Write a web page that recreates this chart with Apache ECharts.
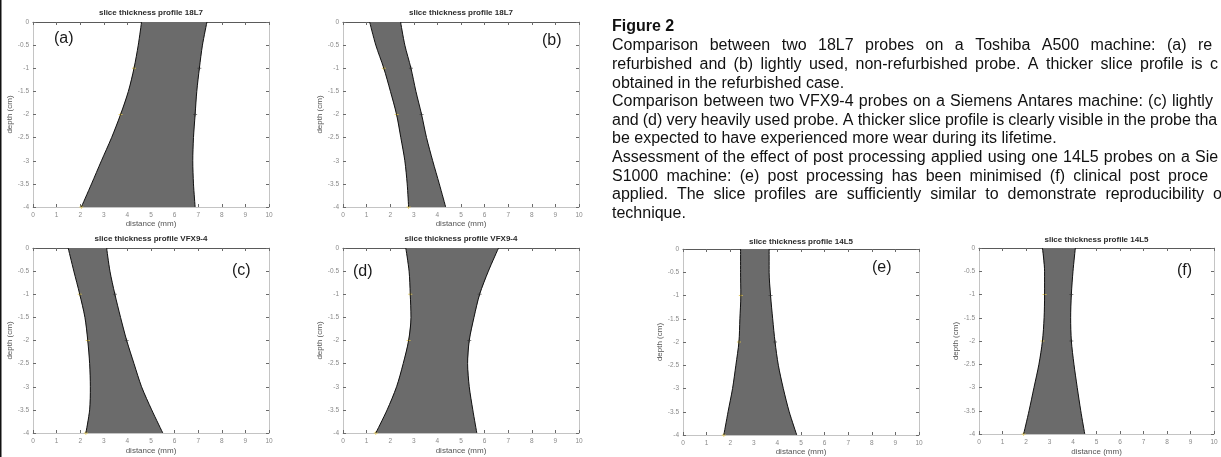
<!DOCTYPE html>
<html>
<head>
<meta charset="utf-8">
<title>slice thickness profiles</title>
<script src="https://cdn.jsdelivr.net/npm/echarts@6/dist/echarts.min.js"></script>
<style>
    html, body { margin: 0; padding: 0; background: #fff; }
    #main { width: 1221px; height: 457px; }
</style>
</head>
<body>
<div id="main"></div>
<script>
    // depth samples (cm), shared by all six profiles
    const depth = [0, -0.5, -1, -1.5, -2, -2.5, -3, -3.5, -4];

    // left / right edge of the slice profile (distance, mm) at each depth
    const leftA = [4.6, 4.46, 4.28, 4.04, 3.71, 3.33, 2.9, 2.48, 2.05];
    const rightA = [7.37, 7.18, 7.05, 6.94, 6.87, 6.8, 6.77, 6.8, 6.87];
    const leftB = [1.13, 1.39, 1.73, 2.01, 2.27, 2.45, 2.62, 2.72, 2.78];
    const rightB = [2.44, 2.62, 2.88, 3.09, 3.33, 3.54, 3.8, 4.08, 4.35];
    const leftC = [1.49, 1.73, 1.98, 2.2, 2.32, 2.4, 2.43, 2.4, 2.24];
    const rightC = [3.12, 3.26, 3.47, 3.71, 3.97, 4.28, 4.6, 5.03, 5.5];
    const leftD = [2.66, 2.8, 2.85, 2.88, 2.78, 2.55, 2.27, 1.87, 1.39];
    const rightD = [6.59, 6.16, 5.79, 5.55, 5.35, 5.28, 5.35, 5.5, 5.67];
    const leftE = [2.44, 2.44, 2.45, 2.41, 2.37, 2.24, 2.1, 1.91, 1.73];
    const rightE = [3.65, 3.65, 3.71, 3.8, 3.9, 4.04, 4.25, 4.5, 4.82];
    const leftF = [2.7, 2.79, 2.79, 2.77, 2.7, 2.55, 2.34, 2.13, 1.9];
    const rightF = [4.1, 4.0, 3.93, 3.9, 3.93, 4.04, 4.18, 4.33, 4.5];

    // depths (index into depth) where the measurement markers sit
    const markerIdx = [2, 4, 8];

    const titles = [
        'slice thickness profile 18L7', 'slice thickness profile 18L7',
        'slice thickness profile VFX9-4', 'slice thickness profile VFX9-4',
        'slice thickness profile 14L5', 'slice thickness profile 14L5'
    ];
    const tags = ['(a)', '(b)', '(c)', '(d)', '(e)', '(f)'];
    const xName = 'distance (mm)';
    const yName = 'depth (cm)';

    const captionHead = 'Figure 2';
    const captionLines = [
        'Comparison between two 18L7 probes on a Toshiba A500 machine: (a) re',
        'refurbished and (b) lightly used, non-refurbished probe. A thicker slice profile is c',
        'obtained in the refurbished case.',
        'Comparison between two VFX9-4 probes on a Siemens Antares machine: (c) lightly',
        'and (d) very heavily used probe. A thicker slice profile is clearly visible in the probe tha',
        'be expected to have experienced more wear during its lifetime.',
        'Assessment of the effect of post processing applied using one 14L5 probes on a Sie',
        'S1000 machine: (e) post processing has been minimised (f) clinical post proce',
        'applied. The slice profiles are sufficiently similar to demonstrate reproducibility o',
        'technique.'
    ];

    const lefts = [leftA, leftB, leftC, leftD, leftE, leftF];
    const rights = [rightA, rightB, rightC, rightD, rightE, rightF];

    // layout
    const boxes = [
        {left: 33, top: 22, width: 236, height: 185, titleY: 14, tag: [54, 39], nameGap: 13},
        {left: 343, top: 22, width: 236, height: 185, titleY: 14, tag: [542, 41], nameGap: 13},
        {left: 33, top: 248, width: 236, height: 185, titleY: 240, tag: [232, 271], nameGap: 14},
        {left: 343, top: 248, width: 236, height: 185, titleY: 240, tag: [353, 272], nameGap: 14},
        {left: 683, top: 249, width: 236, height: 187, titleY: 243, tag: [872, 268], nameGap: 13},
        {left: 979, top: 248, width: 235, height: 186, titleY: 241, tag: [1177, 271], nameGap: 14}
    ];
    const textFont = '"Liberation Sans", Arial, sans-serif';
    const captionX = 612;
    const captionY0 = 46;
    const captionStep = 18.6;
    // x where the last visible word of each justified line starts (null = not justified)
    const justifyTo = [1198, 1210, null, 1172, 1195, null, 1195, 1168, 1213, null];

    const myChart = echarts.init(document.getElementById('main'));

    const grid = [], xAxis = [], yAxis = [], series = [], title = [], graphic = [];

    const axisLine = (color) => ({show: true, onZero: false, lineStyle: {color: color, width: 1}});
    const ticks = {show: true, inside: true, length: 3, lineStyle: {color: '#6a6a6a', width: 1}};

    boxes.forEach(function (b, i) {
        grid.push({left: b.left, top: b.top, width: b.width, height: b.height, containLabel: false});

        xAxis.push({
            gridIndex: i, type: 'value', min: 0, max: 10, interval: 1, position: 'bottom',
            axisLine: axisLine('#c4c4c4'), axisTick: ticks, splitLine: {show: false},
            axisLabel: {color: '#8a8a8a', fontSize: 6.5, margin: 5, fontFamily: textFont},
            name: xName, nameLocation: 'middle', nameGap: b.nameGap,
            nameTextStyle: {color: '#555', fontSize: 8, fontFamily: textFont}
        });
        xAxis.push({
            gridIndex: i, type: 'value', min: 0, max: 10, interval: 1, position: 'top',
            axisLine: axisLine('#5a5a5a'), axisTick: ticks, splitLine: {show: false},
            axisLabel: {show: false}
        });
        yAxis.push({
            gridIndex: i, type: 'value', min: -4, max: 0, interval: 0.5, position: 'left',
            axisLine: axisLine('#c4c4c4'), axisTick: ticks, splitLine: {show: false},
            axisLabel: {color: '#8a8a8a', fontSize: 6.5, margin: 4, fontFamily: textFont},
            name: yName, nameLocation: 'middle', nameGap: 17, nameRotate: 90,
            nameTextStyle: {color: '#555', fontSize: 8, fontFamily: textFont}
        });
        yAxis.push({
            gridIndex: i, type: 'value', min: -4, max: 0, interval: 0.5, position: 'right',
            axisLine: axisLine('#c4c4c4'), axisTick: ticks, splitLine: {show: false},
            axisLabel: {show: false}
        });

        const L = lefts[i], R = rights[i];
        const leftPts = depth.map((d, k) => [L[k], d]);
        const rightPts = depth.map((d, k) => [R[k], d]);
        const poly = leftPts.concat(rightPts.slice().reverse());

        series.push({
            type: 'custom', xAxisIndex: 2 * i, yAxisIndex: 2 * i, clip: true, silent: true,
            data: poly,
            renderItem: function (params, api) {
                if (params.dataIndex !== 0) return null;
                return {
                    type: 'polygon',
                    shape: {points: poly.map(p => api.coord(p))},
                    style: {fill: '#6b6b6b'}
                };
            }
        });
        [leftPts, rightPts].forEach(function (pts) {
            series.push({
                type: 'line', xAxisIndex: 2 * i, yAxisIndex: 2 * i, data: pts,
                smooth: 0.3, showSymbol: false, silent: true,
                lineStyle: {color: '#111', width: 1}
            });
        });
        series.push({
            type: 'scatter', xAxisIndex: 2 * i, yAxisIndex: 2 * i, silent: true,
            symbol: 'path://M4,0H6V4H10V6H6V10H4V6H0V4H4Z', symbolSize: 4,
            data: markerIdx.map(k => leftPts[k]),
            itemStyle: {color: '#e6c84a', opacity: 0.8}
        });
        series.push({
            type: 'scatter', xAxisIndex: 2 * i, yAxisIndex: 2 * i, silent: true,
            symbol: 'path://M4,0H6V4H10V6H6V10H4V6H0V4H4Z', symbolSize: 4,
            data: markerIdx.slice(0, 2).map(k => rightPts[k]),
            itemStyle: {color: '#333', opacity: 0.6}
        });

        title.push({
            text: titles[i], left: b.left + b.width / 2, top: b.titleY - 5, textAlign: 'center', padding: 0,
            textStyle: {fontSize: 8, fontWeight: 'bold', color: '#2a2a2a', fontFamily: textFont}
        });
        graphic.push({
            type: 'text', x: b.tag[0], y: b.tag[1],
            style: {text: tags[i], fill: '#1a1a1a', font: '16px ' + textFont, verticalAlign: 'middle'}
        });
    });

    // caption
    const mctx = document.createElement('canvas').getContext('2d');
    const capFont = '16px ' + textFont;
    mctx.font = capFont;
    graphic.push({
        type: 'text', x: captionX, y: captionY0 - 19,
        style: {text: captionHead, fill: '#111', font: 'bold 16px ' + textFont, verticalAlign: 'middle'}
    });
    captionLines.forEach(function (line, k) {
        const y = captionY0 + k * captionStep;
        const end = justifyTo[k];
        if (end == null) {
            graphic.push({type: 'text', x: captionX, y: y,
                style: {text: line, fill: '#111', font: capFont, verticalAlign: 'middle'}});
            return;
        }
        const words = line.split(' ');
        const widths = words.map(w => mctx.measureText(w).width);
        let used = 0;
        for (let j = 0; j < words.length - 1; j++) used += widths[j];
        const gap = (end - captionX - used) / (words.length - 1);
        let x = captionX;
        words.forEach(function (w, j) {
            graphic.push({type: 'text', x: x, y: y,
                style: {text: w, fill: '#111', font: capFont, verticalAlign: 'middle'}});
            x += widths[j] + gap;
        });
    });

    // dark edge on the left of the figure
    graphic.push({type: 'rect', shape: {x: 0, y: 0, width: 1.5, height: 457}, style: {fill: '#111'}});

    myChart.setOption({
        animation: false,
        title: title,
        grid: grid,
        xAxis: xAxis,
        yAxis: yAxis,
        series: series,
        graphic: graphic
    });
</script>
</body>
</html>
